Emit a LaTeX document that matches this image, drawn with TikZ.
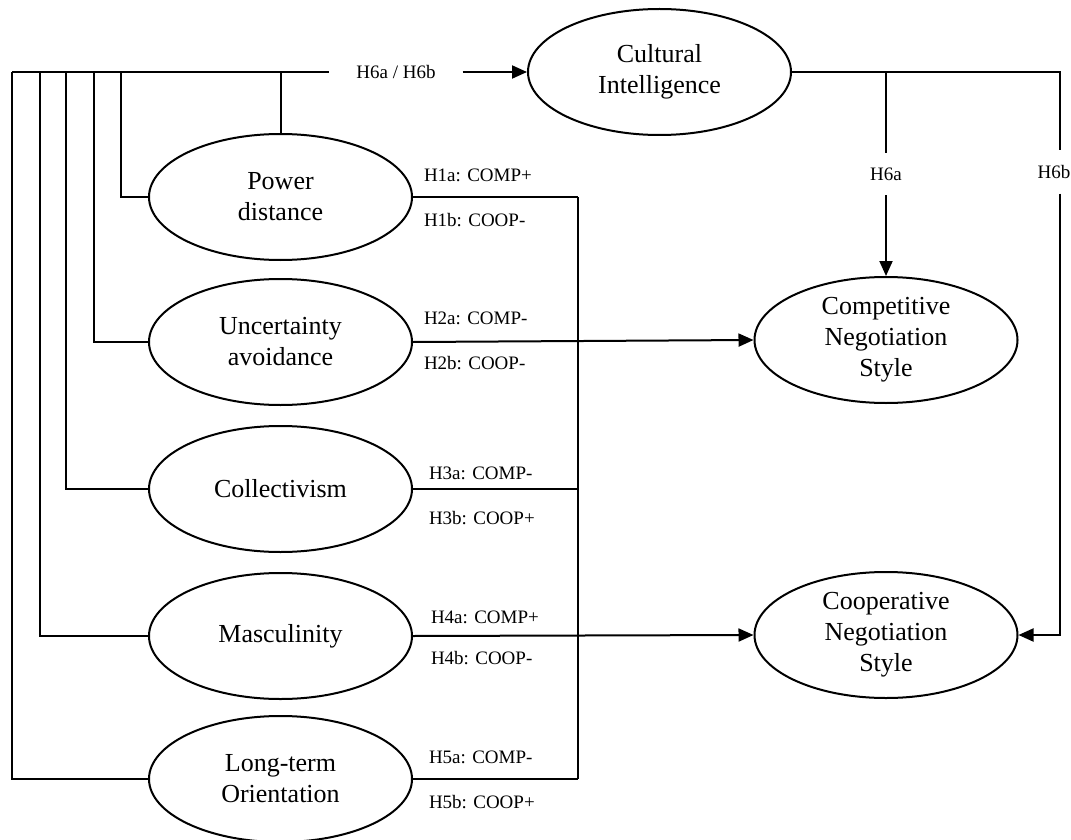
\documentclass[tikz,border=0pt]{standalone}
\usepackage{fontspec}
\setmainfont{Liberation Serif}
\usetikzlibrary{shapes.geometric,arrows.meta}
\begin{document}
\begin{tikzpicture}[x=1pt,y=-1pt,
  line width=2pt,
  construct/.style={draw, ellipse, minimum width=263pt, minimum height=126pt,
    inner sep=0pt, align=center, font=\fontsize{26}{31}\selectfont},
  hyp/.style={anchor=west, inner sep=0pt, font=\fontsize{19}{22}\selectfont},
  gaph/.style={inner xsep=26pt, inner ysep=0pt, font=\fontsize{19}{22}\selectfont},
  gapv/.style={inner xsep=0pt, inner ysep=14pt, font=\fontsize{19}{22}\selectfont},
  arr/.style={-{Triangle[length=15pt,width=13pt]}}
]
\useasboundingbox (0,0) rectangle (1071,840);

% constructs
\node[construct] (ci) at (659.5,72) {Cultural\\Intelligence};
\node[construct] (pd) at (280.5,197) {Power\\distance};
\node[construct] (ua) at (280.5,342) {Uncertainty\\avoidance};
\node[construct] (co) at (280.5,489) {Collectivism};
\node[construct] (ma) at (280.5,636) {Masculinity};
\node[construct] (lt) at (280.5,779) {Long-term\\Orientation};
\node[construct] (comp) at (886,340) {Competitive\\Negotiation\\Style};
\node[construct] (coop) at (886,635) {Cooperative\\Negotiation\\Style};

% gap labels on lines
\node[gaph] (h6ab) at (396,72) {H6a / H6b};
\node[gapv] (h6a) at (886,174) {H6a};
\node[gapv] (h6b) at (1054,172) {H6b};

% top line and left verticals
\coordinate (tl) at (12,72);
\coordinate (vma) at (40,72);
\coordinate (vco) at (66,72);
\coordinate (vua) at (94,72);
\coordinate (vpd) at (121,72);
\draw (tl) -- (h6ab.west);
\draw[arr] (h6ab.east) -- (ci.west);
\draw (tl) |- (lt.west);
\draw (vma) |- (ma.west);
\draw (vco) |- (co.west);
\draw (vua) |- (ua.west);
\draw (vpd) |- (pd.west);
\draw (pd.north) -- (pd.north |- tl);

% right side from cultural intelligence
\coordinate (jr) at (1060,72);
\coordinate (ja) at (886,72);
\draw (ci.east) -- (jr) -- (jr |- h6b.north);
\draw[arr] (jr |- h6b.south) |- (coop.east);
\draw (ja) -- (h6a.north);
\draw[arr] (h6a.south) -- (comp.north);

% dimension lines to outcomes
\coordinate (b1) at (578,197);
\coordinate (b5) at (578,779);
\draw (pd.east) -- (b1);
\draw (co.east) -- (co.east -| b1);
\draw (lt.east) -- (b5);
\draw (b1) -- (b5);
\draw[arr] (ua.east) -- (comp.west);
\draw[arr] (ma.east) -- (coop.west);

% hypothesis labels
\node[hyp] (l1a) at (423,175) {H1a: COMP+};
\node[hyp] (l1b) at (423,220) {H1b: COOP-};
\node[hyp] (l2a) at (423,318) {H2a: COMP-};
\node[hyp] (l2b) at (423,363) {H2b: COOP-};
\node[hyp] (l3a) at (428,473) {H3a: COMP-};
\node[hyp] (l3b) at (428,518) {H3b: COOP+};
\node[hyp] (l4a) at (430,617) {H4a: COMP+};
\node[hyp] (l4b) at (430,658) {H4b: COOP-};
\node[hyp] (l5a) at (428,757) {H5a: COMP-};
\node[hyp] (l5b) at (428,802) {H5b: COOP+};
\end{tikzpicture}
\end{document}
